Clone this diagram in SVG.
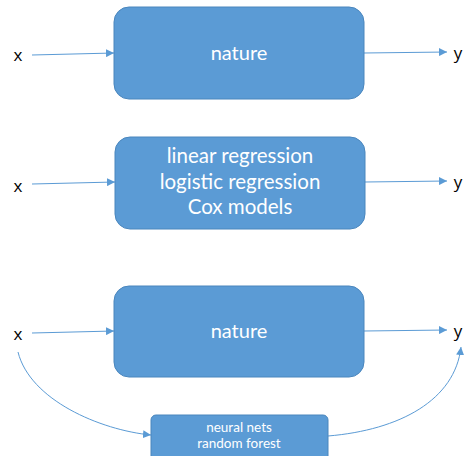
<svg xmlns="http://www.w3.org/2000/svg" width="467" height="456" viewBox="0 0 467 456">
<style>
.box{fill:#5B9BD5;stroke:#4A86BD;stroke-width:1}
.lbl{font-family:Lato,"Open Sans",sans-serif;fill:#fff;text-anchor:middle}
.var{font-family:"Open Sans",Lato,sans-serif;font-size:17px;fill:#000;text-anchor:middle}
.con{fill:none;stroke:#5B9BD5;stroke-width:1;marker-end:url(#ah)}
</style>
<defs>
<marker id="ah" viewBox="0 0 10 10" refX="10" refY="5" markerWidth="8" markerHeight="8" markerUnits="userSpaceOnUse" orient="auto">
<path d="M0,0 L10,5 L0,10 z" fill="#5B9BD5"/>
</marker>
</defs>
<rect width="467" height="456" fill="#fff"/>
<g id="connectors">
<path class="con" d="M32,55 L114,53"/>
<path class="con" d="M364,53 L447,52"/>
<path class="con" d="M32,184 L115,182"/>
<path class="con" d="M365,182 L447,181"/>
<path class="con" d="M32,333 L114,331"/>
<path class="con" d="M364,331 L447,330"/>
<path class="con" d="M18,352 C30,400 100,430 151,435"/>
<path class="con" d="M328,436 C400,430 455,400 461,347"/>
</g>
<g id="n-x1"><text class="var" x="18" y="61">x</text></g>
<g id="n-y1"><text class="var" x="458" y="59">y</text></g>
<g id="n-nature1">
<rect class="box" x="114" y="7" width="250" height="92" rx="15"/>
<text class="lbl" x="239" y="60" font-size="20">nature</text>
</g>
<g id="n-x2"><text class="var" x="18" y="192">x</text></g>
<g id="n-y2"><text class="var" x="458" y="188">y</text></g>
<g id="n-models">
<rect class="box" x="115" y="137" width="250" height="92" rx="15"/>
<text class="lbl" x="240" y="163" font-size="20.5">linear regression</text>
<text class="lbl" x="240" y="189" font-size="20.5">logistic regression</text>
<text class="lbl" x="240" y="214" font-size="20.5">Cox models</text>
</g>
<g id="n-x3"><text class="var" x="18" y="340">x</text></g>
<g id="n-y3"><text class="var" x="458" y="337">y</text></g>
<g id="n-nature2">
<rect class="box" x="114" y="286" width="250" height="91" rx="15"/>
<text class="lbl" x="239" y="338" font-size="20">nature</text>
</g>
<g id="n-ml">
<rect class="box" x="151" y="415" width="177" height="50" rx="5"/>
<text class="lbl" x="239" y="432" font-size="13.5">neural nets</text>
<text class="lbl" x="239" y="448" font-size="13.5">random forest</text>
</g>
</svg>
